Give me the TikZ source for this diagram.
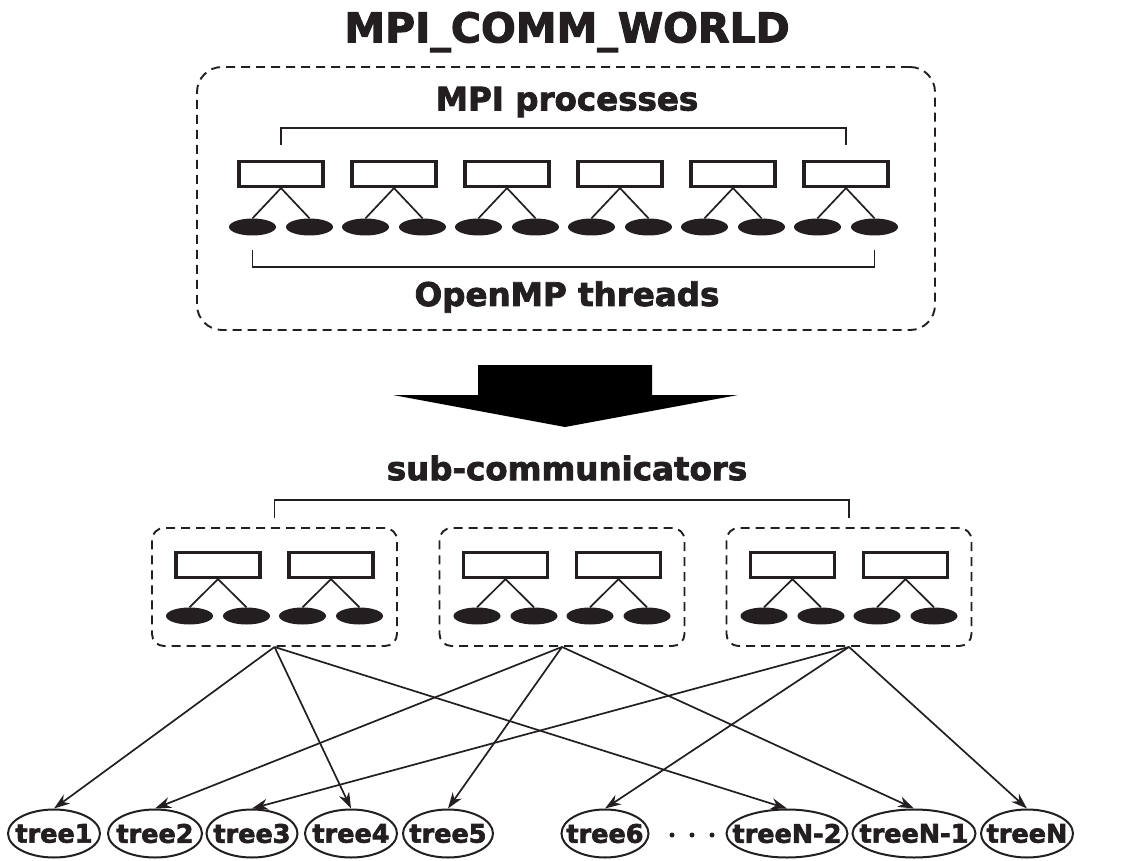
\documentclass[tikz,border=0pt]{standalone}
\usepackage{fontspec}
\setmainfont{DejaVu Sans}[BoldFeatures={FakeBold=2.5}]
\usetikzlibrary{arrows.meta,shapes.geometric}
\definecolor{ink}{HTML}{231F20}
\tikzset{
  proc/.style={draw=ink, line width=3.2pt, minimum width=84pt, minimum height=25pt, inner sep=0pt},
  thread/.style={ellipse, fill=ink, minimum width=47pt, minimum height=17pt, inner sep=0pt},
  grp/.style={draw=ink, line width=1.9pt, dash pattern=on 9pt off 6pt, rounded corners=12pt, inner sep=0pt},
  tree/.style={ellipse, draw=ink, line width=2pt, minimum height=48pt, inner sep=0pt, text=ink,
    font=\bfseries\fontsize{25.5}{25.5}\selectfont},
  lbl/.style={text=ink, font=\bfseries\fontsize{32.5}{32.5}\selectfont},
  link/.style={draw=ink, line width=1.7pt},
  arr/.style={link, -{Stealth[length=16pt, width=11pt, inset=5pt]}},
}

\begin{document}
\begin{tikzpicture}[x=1pt, y=-1pt]
    \useasboundingbox (0,0) rectangle (1146,861);
    \node[lbl, font=\bfseries\fontsize{41}{41}\selectfont] (title) at (567,32) {MPI\_COMM\_WORLD};
    \node[grp, rounded corners=25pt, minimum width=738pt, minimum height=263pt] (world) at (566,198.5) {};
    % MPI processes with two threads each
    \foreach \i in {1,...,6} {
      \pgfmathsetmacro\px{281+113*(\i-1)}
      \node[proc] (p\i) at (\px,174) {};
      \node[thread] (t\i-a) at (\px-28.5,227) {};
      \node[thread] (t\i-b) at (\px+28.5,227) {};
      \draw[link] (p\i.south) -- (t\i-a.north);
      \draw[link] (p\i.south) -- (t\i-b.north);
    }
    \node[lbl] (proclbl) at (567,102) {MPI processes};
    \draw[link] (p1 |- 0,145) -- (p1 |- 0,128) -- (p6 |- 0,128) -- (p6 |- 0,145);
    \draw[link] (t1-a |- 0,250) -- (t1-a |- 0,267) -- (t6-b |- 0,267) -- (t6-b |- 0,250);
    \node[lbl] (thrlbl) at (567,297) {OpenMP threads};
    % big arrow
    \fill[black] (478,365) -- (652,365) -- (652,395) -- (738,395) -- (565,427)
      -- (393,395) -- (478,395) -- cycle;
    \node[lbl] (sublbl) at (567,468) {sub-communicators};
    % sub-communicators
    \foreach \j/\gx in {1/274.5, 2/562, 3/849} {
      \node[grp, minimum width=245pt, minimum height=118pt] (g\j) at (\gx,587) {};
      \foreach \k/\dx in {a/-56.5, b/56.5} {
        \node[proc] (q\j\k) at (\gx+\dx,565) {};
        \node[thread] (u\j\k-l) at (\gx+\dx-28.5,616) {};
        \node[thread] (u\j\k-r) at (\gx+\dx+28.5,616) {};
        \draw[link] (q\j\k.south) -- (u\j\k-l.north);
        \draw[link] (q\j\k.south) -- (u\j\k-r.north);
      }
    }
    \draw[link] (g1 |- 0,518) -- (g1 |- 0,500) -- (g3 |- 0,500) -- (g3 |- 0,518);
    % trees
    \foreach \n/\tx/\w/\t in {1/54/92pt/tree1, 2/155/94pt/tree2, 3/252/91pt/tree3,
        4/351/92pt/tree4, 5/448/90pt/tree5, 6/605/87pt/tree6,
        N2/787/121pt/treeN-2, N1/914/123pt/treeN-1, N/1027/92pt/treeN} {
      \node[tree, minimum width=\w] (r\n) at (\tx,833.5) {\makebox[0pt]{\t}};
    }
    \foreach \d in {672,692,712}
      \fill[ink] (\d,835) circle (2.5pt);
    \draw[arr] (g1.south) -- (r1.north);
    \draw[arr] (g1.south) -- (r4.north);
    \draw[arr] (g1.south) -- (rN2.north);
    \draw[arr] (g2.south) -- (r2.north);
    \draw[arr] (g2.south) -- (r5.north);
    \draw[arr] (g2.south) -- (rN1.north);
    \draw[arr] (g3.south) -- (r3.north);
    \draw[arr] (g3.south) -- (r6.north);
    \draw[arr] (g3.south) -- (rN.north);
\end{tikzpicture}
\end{document}
